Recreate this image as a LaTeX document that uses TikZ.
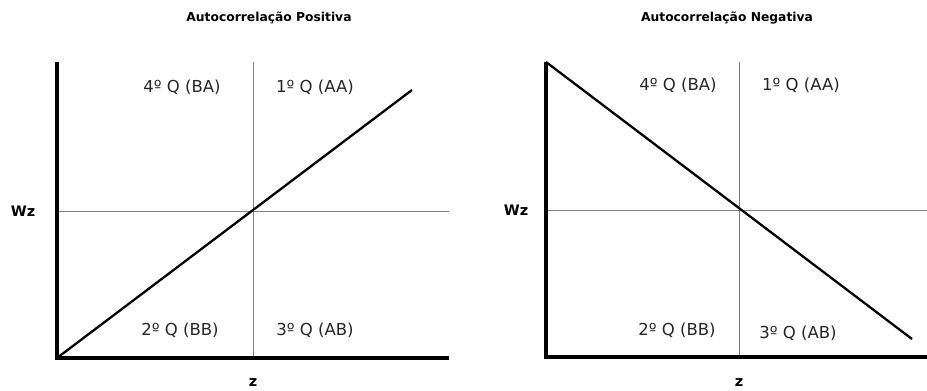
\documentclass[tikz,border=0pt]{standalone}
\usepackage{fontspec}
\setmainfont{DejaVu Sans}
\begin{document}
\begin{tikzpicture}[x=1pt,y=-1pt,
  axisline/.style={line width=4.5pt,black},
  gridline/.style={line width=1pt,black!50},
  trend/.style={line width=2.3pt,black},
  qlabel/.style={font=\fontsize{16.5}{19}\selectfont,text=black!85,inner sep=0pt},
  title/.style={font=\bfseries\fontsize{12.3}{14}\selectfont,inner sep=0pt},
  alabel/.style={font=\bfseries\fontsize{14.5}{17}\selectfont,inner sep=0pt}]
\useasboundingbox (0,0) rectangle (927,391);
% Left panel
\coordinate (LO) at (57,358);
\coordinate (LT) at (57,62);
\coordinate (LR) at (449,358);
\coordinate (LVt) at (253,62);
\coordinate (LVb) at (253,358);
\coordinate (LHl) at (57,211);
\coordinate (LHr) at (449,211);
\coordinate (LE) at (412,90);
\draw[gridline] (LVt) -- (LVb);
\draw[gridline] (LHl) -- (LHr);
\draw[trend] (LO) -- (LE);
\draw[axisline] (LT) -- (LO) -- (LR);
\node[title] (t1) at (269,18) {Autocorrelação Positiva};
\node[qlabel] (l4) at (182,87) {4º Q (BA)};
\node[qlabel] (l1) at (315,87) {1º Q (AA)};
\node[qlabel] (l2) at (180,330) {2º Q (BB)};
\node[qlabel] (l3) at (315,330) {3º Q (AB)};
\node[alabel] (lw) at (23,211) {Wz};
\node[alabel] (lz) at (253,383) {z};
% Right panel
\coordinate (RO) at (546,357);
\coordinate (RT) at (546,62);
\coordinate (RR) at (927,357);
\coordinate (RVt) at (739,62);
\coordinate (RVb) at (739,357);
\coordinate (RHl) at (546,210);
\coordinate (RHr) at (927,210);
\coordinate (RE) at (912,339);
\draw[gridline] (RVt) -- (RVb);
\draw[gridline] (RHl) -- (RHr);
\draw[trend] (RT) -- (RE);
\draw[axisline] (RT) -- (RO) -- (RR);
\node[title] (t2) at (727,18) {Autocorrelação Negativa};
\node[qlabel] (r4) at (678,85) {4º Q (BA)};
\node[qlabel] (r1) at (801,85) {1º Q (AA)};
\node[qlabel] (r2) at (677,330) {2º Q (BB)};
\node[qlabel] (r3) at (798,333) {3º Q (AB)};
\node[alabel] (rw) at (516,210) {Wz};
\node[alabel] (rz) at (739,383) {z};
\end{tikzpicture}
\end{document}
